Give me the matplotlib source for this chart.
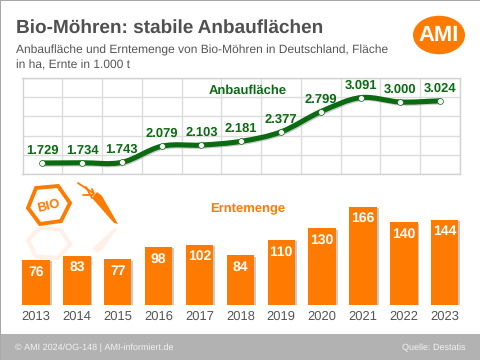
# -*- coding: utf-8 -*-
import matplotlib
matplotlib.use('Agg')
import matplotlib.pyplot as plt
import matplotlib.patheffects as pe
from matplotlib.patches import Ellipse, PathPatch, Polygon, Rectangle
from matplotlib.path import Path
import numpy as np

plt.rcParams['font.family'] = ['Liberation Sans', 'DejaVu Sans']
plt.rcParams['text.hinting'] = 'no_hinting'
plt.rcParams['text.hinting_factor'] = 1

years = [2013, 2014, 2015, 2016, 2017, 2018, 2019, 2020, 2021, 2022, 2023]
area = [1729, 1734, 1743, 2079, 2103, 2181, 2377, 2799, 3091, 3000, 3024]
harvest = [76, 83, 77, 98, 102, 84, 110, 130, 166, 140, 144]
area_labels = ['1.729', '1.734', '1.743', '2.079', '2.103', '2.181', '2.377',
               '2.799', '3.091', '3.000', '3.024']

GREEN = '#0b6b12'
ORANGE = '#ff7a00'
GREY = '#555555'
W, H = 480, 360


def pixel_axes(fig, x0, y0, x1, y1):
    # rectangle given in image pixels, y counted from the top
    return fig.add_axes([x0 / W, 1 - y1 / H, (x1 - x0) / W, (y1 - y0) / H])


def smooth_path(x, y):
    # Catmull-Rom style bezier through the data points
    x = np.asarray(x, float)
    y = np.asarray(y, float)
    dx = np.gradient(x)
    dy = np.gradient(y)
    verts = [(x[0], y[0])]
    codes = [Path.MOVETO]
    for i in range(len(x) - 1):
        verts.append((x[i] + dx[i] / 3, y[i] + dy[i] / 3))
        verts.append((x[i + 1] - dx[i + 1] / 3, y[i + 1] - dy[i + 1] / 3))
        verts.append((x[i + 1], y[i + 1]))
        codes += [Path.CURVE4, Path.CURVE4, Path.CURVE4]
    return Path(verts, codes)


fig = plt.figure(figsize=(W / 100, H / 100), dpi=100, facecolor='white')

# page layer in pixel coordinates
bg = fig.add_axes([0, 0, 1, 1])
bg.set_xlim(0, W)
bg.set_ylim(H, 0)
bg.axis('off')
bg.add_patch(Rectangle((0, 334), W, 26, color='#b2b2b2', lw=0))
bg.add_patch(Rectangle((0, 0), W, 1, color='#a8a8a8', lw=0))
bg.add_patch(Rectangle((0, 0), 1, H, color='#a8a8a8', lw=0))

bg.text(15.5, 27.5, 'Bio-Möhren: stabile Anbauflächen', fontsize=13.45,
        fontweight='bold', color='#505050', va='center', ha='left')
bg.text(15.5, 50, 'Anbaufläche und Erntemenge von Bio-Möhren in Deutschland, Fläche',
        fontsize=8.9, color=GREY, va='center', ha='left')
bg.text(15.5, 65, 'in ha, Ernte in 1.000 t', fontsize=8.9, color=GREY,
        va='center', ha='left')
bg.text(15, 348, '© AMI 2024/OG-148 | AMI-informiert.de', fontsize=6.8,
        color='#f2f2f2', va='center', ha='left')
bg.text(465, 348, 'Quelle: Destatis', fontsize=6.8, color='#f2f2f2',
        va='center', ha='right')

# logo
bg.add_patch(Ellipse((439, 35), 52, 38.5, color=ORANGE, lw=0))
bg.text(439, 35.5, 'AMI', fontsize=15.5, fontweight='bold', color='white',
        va='center', ha='center')

# bio hexagon and carrot, with a faint mirror image below
hexagon = np.array([[28, 208], [36, 188], [58, 186], [70, 203], [61, 221], [40, 224]])
carrot = np.array([[92, 198], [97, 192], [102, 196], [118, 224], [114, 223]])
leaves = [[[78, 183], [93, 193]], [[83, 195], [93, 195]], [[92, 189], [94, 194]],
          [[86, 187], [92, 198]]]
fade = Rectangle((20, 226), 110, 20, transform=bg.transData)
bg.add_patch(Polygon(hexagon, closed=True, fill=False, ec=ORANGE, lw=2.8, joinstyle='miter'))
bg.text(48.5, 206, 'BIO', fontsize=9.5, fontweight='bold', color=ORANGE, rotation=14,
        va='center', ha='center')
bg.add_patch(Polygon(carrot, closed=True, fc=ORANGE, ec='none'))
for leaf in leaves:
    bg.plot(*zip(*leaf), color=ORANGE, lw=1.3, solid_capstyle='round')
mirror_hex = hexagon * [1, -0.8] + [0, 2 * 226 * 0.9]
mirror_carrot = carrot * [1, -0.8] + [0, 2 * 226 * 0.9]
bg.add_patch(Polygon(mirror_hex, closed=True, fill=False, ec='#ffb98a', lw=3, alpha=0.2,
                     clip_path=fade))
bg.add_patch(Polygon(mirror_carrot, closed=True, fc='#ffb98a', ec='none', alpha=0.2,
                     clip_path=fade))

# Anbauflaeche
ax1 = pixel_axes(fig, 22.5, 78, 460, 174)
ax1.patch.set_alpha(0)
ax1.set_xlim(2012.5, 2023.5)
ax1.set_ylim(1500, 3500)
ax1.set_xticks(np.arange(2012.5, 2024))
ax1.set_yticks(np.arange(1500, 3501, 400))
ax1.tick_params(length=0, labelbottom=False, labelleft=False)
ax1.grid(color='#dcdcdc', lw=1)
ax1.set_axisbelow(True)
for s in ax1.spines.values():
    s.set_color('#d2d2d2')
    s.set_linewidth(1)
ax1.add_patch(PathPatch(smooth_path(years, area), fill=False, ec=GREEN, lw=3.7, capstyle='round',
                        path_effects=[pe.SimpleLineShadow(offset=(0.8, -0.8), shadow_color='#999999', alpha=0.5),
                                      pe.Normal()]))
ax1.plot(years, area, ls='none', marker='o', ms=4.2, mfc='white', mec=GREEN, mew=0.5)
for x, v, lab in zip(years, area, area_labels):
    ax1.annotate(lab, (x, v), xytext=(0, 9.0), textcoords='offset points', ha='center',
                 va='center', fontsize=9.6, fontweight='bold', color=GREEN, annotation_clip=False)
ax1.text(2018.16, 3240, 'Anbaufläche', fontsize=9.6, fontweight='bold', color=GREEN,
         ha='center', va='center')

# Erntemenge
ax2 = pixel_axes(fig, 15.6, 195, 465.2, 305)
ax2.patch.set_alpha(0)
ax2.set_xlim(2012.5, 2023.5)
ax2.set_ylim(0, 186)
bars = ax2.bar(years, harvest, width=0.67, color=ORANGE, lw=0)
for b in bars:
    b.set_path_effects([pe.SimplePatchShadow(offset=(1.3, -1), shadow_rgbFace='#888888', alpha=0.45),
                        pe.Normal()])
for x, v in zip(years, harvest):
    ax2.annotate(str(v), (x, v), xytext=(0, -8.5), textcoords='offset points', ha='center',
                 va='center', fontsize=10, fontweight='bold', color='white')
ax2.set_xticks(years)
ax2.set_xticklabels(years, fontsize=9, color=GREY)
ax2.tick_params(axis='x', length=0, pad=4)
ax2.set_yticks([])
for s in ax2.spines.values():
    s.set_visible(False)
ax2.text(2018.19, 163, 'Erntemenge', fontsize=9.6, fontweight='bold', color=ORANGE,
         ha='center', va='center')

fig.savefig('out.png', dpi=100)
